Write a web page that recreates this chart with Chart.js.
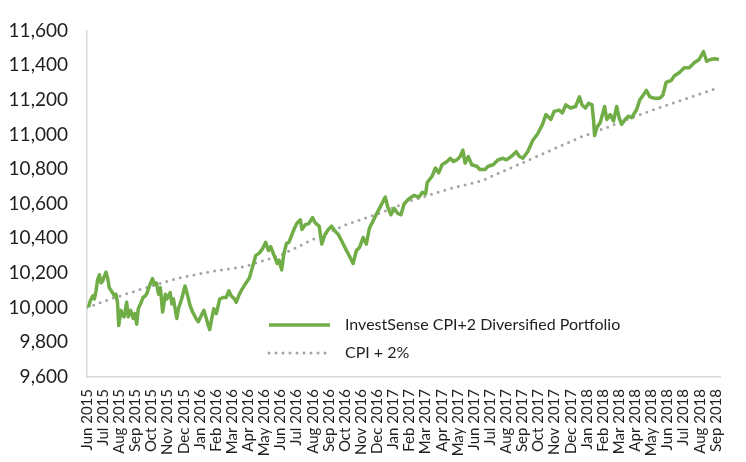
<!DOCTYPE html>
<html>
<head>
<meta charset="utf-8">
<title>InvestSense CPI+2 Diversified Portfolio</title>
<script src="https://cdn.jsdelivr.net/npm/chart.js@4.4.1/dist/chart.umd.min.js"></script>
<style>
  html, body { margin: 0; padding: 0; background: #fff; }
  #wrap { width: 746px; height: 462px; }
</style>
</head>
<body>
<div id="wrap"><canvas id="chartPortfolio" width="746" height="462"></canvas></div>
<script>
// month labels on the x axis (position 0 = Jun 2015)
const monthLabels = [
  "Jun 2015", "Jul 2015", "Aug 2015", "Sep 2015", "Oct 2015", "Nov 2015", "Dec 2015",
  "Jan 2016", "Feb 2016", "Mar 2016", "Apr 2016", "May 2016", "Jun 2016", "Jul 2016",
  "Aug 2016", "Sep 2016", "Oct 2016", "Nov 2016", "Dec 2016",
  "Jan 2017", "Feb 2017", "Mar 2017", "Apr 2017", "May 2017", "Jun 2017", "Jul 2017",
  "Aug 2017", "Sep 2017", "Oct 2017", "Nov 2017", "Dec 2017",
  "Jan 2018", "Feb 2018", "Mar 2018", "Apr 2018", "May 2018", "Jun 2018", "Jul 2018",
  "Aug 2018", "Sep 2018"
];

// portfolio value of 10,000 invested, position in months since start of Jun 2015
const portfolioMonths = [
  0.09, 0.21, 0.36, 0.46, 0.56, 0.66, 0.77, 0.87, 0.97, 1.07, 1.18, 1.28, 1.38, 1.58, 1.69, 1.79,
  1.89, 1.97, 2.10, 2.19, 2.30, 2.46, 2.56, 2.71, 2.87, 2.97, 3.08, 3.18, 3.32, 3.48, 3.63, 3.73,
  3.87, 4.06, 4.18, 4.30, 4.44, 4.55, 4.69, 4.86, 4.95, 5.16, 5.26, 5.36, 5.57, 5.67, 5.87, 6.08,
  6.22, 6.39, 6.55, 6.76, 6.90, 7.10, 7.25, 7.37, 7.51, 7.61, 7.74, 7.86, 8.02, 8.23, 8.43, 8.63,
  8.80, 8.94, 9.15, 9.25, 9.45, 9.61, 9.86, 10.07, 10.27, 10.47, 10.68, 10.88, 11.08, 11.25, 11.39,
  11.60, 11.80, 11.91, 12.07, 12.21, 12.37, 12.52, 12.68, 12.83, 13.03, 13.23, 13.33, 13.54, 13.75,
  13.99, 14.15, 14.40, 14.56, 14.76, 14.97, 15.17, 15.38, 15.58, 15.79, 16.09, 16.30, 16.50, 16.71,
  16.91, 17.12, 17.32, 17.52, 17.73, 17.93, 18.24, 18.50, 18.65, 18.85, 19.06, 19.26, 19.47, 19.67,
  19.97, 20.28, 20.59, 20.80, 21.00, 21.10, 21.41, 21.61, 21.81, 22.02, 22.33, 22.53, 22.73, 22.94,
  23.14, 23.31, 23.45, 23.65, 23.86, 24.17, 24.37, 24.68, 24.88, 25.19, 25.49, 25.80, 26.01, 26.31,
  26.62, 26.82, 27.03, 27.33, 27.64, 27.94, 28.25, 28.46, 28.77, 28.97, 29.28, 29.48, 29.69, 29.99,
  30.30, 30.54, 30.70, 30.91, 31.11, 31.32, 31.42, 31.48, 31.62, 31.83, 32.10, 32.24, 32.45, 32.65,
  32.85, 33.00, 33.16, 33.37, 33.57, 33.77, 34.08, 34.28, 34.49, 34.69, 34.90, 35.20, 35.51, 35.71,
  35.92, 36.22, 36.43, 36.74, 37.04, 37.35, 37.66, 37.96, 38.23, 38.43, 38.67, 38.92, 39.19
];
const portfolioValues = [
  10003, 10041, 10069, 10050, 10097, 10162, 10190, 10143, 10153, 10181, 10205, 10171, 10115, 10087, 10069, 10078,
  10031, 9897, 9985, 9957, 9947, 10031, 9947, 9985, 9938, 9966, 9904, 9994, 10022, 10059, 10069, 10087,
  10125, 10168, 10134, 10143, 10078, 10115, 9975, 10078, 10050, 10087, 10022, 10050, 9938, 9994, 10050, 10125,
  10078, 10013, 9975, 9938, 9919, 9957, 9985, 9947, 9901, 9873, 9938, 9994, 9966, 10050, 10059, 10059,
  10097, 10069, 10050, 10031, 10078, 10106, 10143, 10171, 10237, 10302, 10315, 10339, 10377, 10330, 10352,
  10302, 10255, 10274, 10218, 10311, 10371, 10377, 10414, 10451, 10489, 10507, 10451, 10479, 10485,
  10520, 10489, 10470, 10367, 10423, 10451, 10470, 10442, 10423, 10386, 10330, 10293, 10255, 10330,
  10349, 10405, 10367, 10460, 10498, 10536, 10592, 10638, 10582, 10536, 10573, 10545, 10536, 10600,
  10629, 10648, 10638, 10666, 10657, 10722, 10760, 10806, 10778, 10825, 10844, 10862, 10844, 10853,
  10872, 10909, 10834, 10872, 10825, 10816, 10797, 10797, 10816, 10825, 10853, 10862, 10853, 10872,
  10900, 10872, 10862, 10900, 10965, 11002, 11058, 11114, 11086, 11133, 11140, 11124, 11170, 11152,
  11161, 11217, 11170, 11152, 11180, 11170, 11077, 10993, 11040, 11068, 11161, 11086, 11114, 11077,
  11161, 11096, 11058, 11086, 11105, 11096, 11142, 11198, 11226, 11254, 11217, 11208, 11208, 11226,
  11301, 11310, 11338, 11357, 11385, 11385, 11413, 11432, 11478, 11422, 11432, 11436, 11432
];

// CPI + 2% benchmark
const cpiMonths = [0, 1.58, 3.63, 5.67, 7.71, 9.76, 12.0, 14.05, 16.09, 18.14, 20.18, 22.43,
  24.47, 26.52, 28.56, 30.61, 32.24, 34.28, 36.32, 38.98];
const cpiValues = [10000, 10054, 10115, 10171, 10209, 10237, 10302, 10396, 10480, 10545, 10620, 10685,
  10732, 10816, 10900, 10984, 11040, 11114, 11180, 11264];

const seriesNames = ["InvestSense CPI+2 Diversified Portfolio", "CPI + 2%"];

const toPoints = (xs, ys) => xs.map((x, i) => ({ x: x, y: ys[i] }));

const FONT = "Lato, 'Open Sans', sans-serif";
const TEXT = "#1e1e1e";

// legend drawn inside the plot, bottom right
const insideLegend = {
  id: "insideLegend",
  afterDraw(chart) {
    const ctx = chart.ctx;
    const rows = [325, 353];
    ctx.save();
    chart.data.datasets.forEach((ds, i) => {
      const y = rows[i];
      ctx.beginPath();
      ctx.strokeStyle = ds.borderColor;
      ctx.lineWidth = ds.borderWidth;
      ctx.lineCap = ds.borderCapStyle || "butt";
      ctx.setLineDash(ds.borderDash || []);
      ctx.moveTo(269, y);
      ctx.lineTo(330, y);
      ctx.stroke();
      ctx.setLineDash([]);
      ctx.fillStyle = TEXT;
      ctx.font = "16px " + FONT;
      ctx.textBaseline = "middle";
      ctx.textAlign = "left";
      ctx.fillText(ds.label, 345, y);
    });
    ctx.restore();
  }
};

new Chart(document.getElementById("chartPortfolio"), {
  type: "line",
  data: {
    datasets: [
      {
        label: seriesNames[0],
        data: toPoints(portfolioMonths, portfolioValues),
        borderColor: "#70ad47",
        borderWidth: 3.5,
        borderJoinStyle: "round",
        pointRadius: 0,
        tension: 0
      },
      {
        label: seriesNames[1],
        data: toPoints(cpiMonths, cpiValues),
        borderColor: "#a5a5a5",
        borderWidth: 3,
        borderDash: [0, 7],
        borderCapStyle: "round",
        pointRadius: 0,
        tension: 0
      }
    ]
  },
  options: {
    responsive: false,
    devicePixelRatio: 1,
    animation: false,
    layout: { padding: { top: 20, right: 18, left: 0, bottom: 0 } },
    plugins: { legend: { display: false }, tooltip: { enabled: false } },
    scales: {
      x: {
        type: "linear",
        min: 0,
        max: 39.3,
        afterBuildTicks(axis) {
          axis.ticks = monthLabels.map((_, i) => ({ value: i }));
        },
        afterFit(scale) { scale.height = 85; },
        grid: { display: false, drawTicks: false },
        border: { display: true, color: "#d9d9d9", width: 1.5 },
        ticks: {
          autoSkip: false,
          minRotation: 90,
          maxRotation: 90,
          padding: 12,
          color: TEXT,
          font: { family: FONT, size: 15 },
          callback: v => monthLabels[v]
        }
      },
      y: {
        min: 9600,
        max: 11600,
        afterFit(scale) { scale.width = 87; },
        grid: { display: false, drawTicks: false },
        border: { display: true, color: "#d9d9d9", width: 1.5 },
        ticks: {
          stepSize: 200,
          padding: 19,
          color: TEXT,
          font: { family: FONT, size: 19 },
          callback: v => v.toLocaleString("en-US")
        }
      }
    }
  },
  plugins: [insideLegend]
});
</script>
</body>
</html>
